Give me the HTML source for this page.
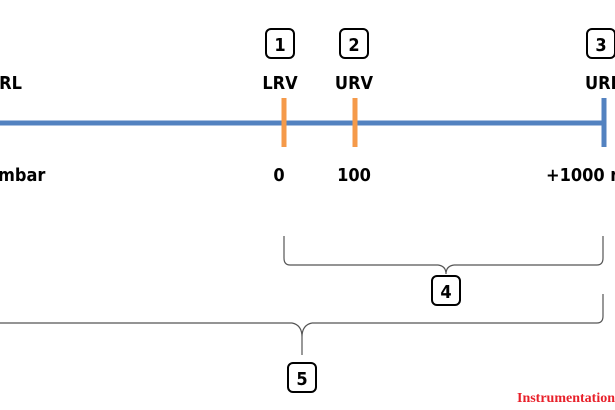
<!DOCTYPE html>
<html><head><style>
html,body{margin:0;padding:0;background:#fff;}
body{width:615px;height:410px;overflow:hidden;position:relative;}
svg{position:absolute;left:0;top:0;}
text{font-family:"DejaVu Sans Condensed","Liberation Sans",sans-serif;font-weight:bold;font-size:18px;fill:#000;}
</style></head><body>
<svg width="615" height="410" viewBox="0 0 615 410">
<line x1="0" y1="123" x2="604" y2="123" stroke="#5382c0" stroke-width="5"/>
<line x1="604" y1="98" x2="604" y2="147" stroke="#5382c0" stroke-width="5"/>
<line x1="284" y1="98" x2="284" y2="147" stroke="#f59a4a" stroke-width="5"/>
<line x1="355" y1="98" x2="355" y2="147" stroke="#f59a4a" stroke-width="5"/>
<g fill="#fff" stroke="#000" stroke-width="2">
<rect x="266" y="29" width="28" height="29" rx="5"/>
<rect x="340" y="29" width="28" height="29" rx="5"/>
<rect x="587" y="29" width="28" height="29" rx="5"/>
<rect x="432" y="276" width="28" height="29" rx="5"/>
<rect x="288" y="363" width="28" height="29" rx="5"/>
</g>
<text x="280" y="51" text-anchor="middle">1</text>
<text x="354" y="51" text-anchor="middle">2</text>
<text x="601" y="51" text-anchor="middle">3</text>
<text x="446" y="298" text-anchor="middle">4</text>
<text x="302" y="385" text-anchor="middle">5</text>
<text x="280" y="89" text-anchor="middle">LRV</text>
<text x="354" y="89" text-anchor="middle">URV</text>
<text x="585" y="89">URL</text>
<text x="-14" y="89">URL</text>
<text x="-2" y="181">mbar</text>
<text x="279" y="181" text-anchor="middle">0</text>
<text x="354" y="181" text-anchor="middle">100</text>
<text x="546" y="181">+1000 mbar</text>
<g fill="none" stroke="#555" stroke-width="1.2">
<path d="M284 236 V258 Q284 265 290 265 H438 Q446 266 446 274 V274 M454 265 H597 Q603 265 603 258 V236 M454 265 Q446 266 446 274"/>
<path d="M0 323 H292 Q302 325 302 337 V355 M312 323 H597 Q603 323 603 316 V294 M312 323 Q302 325 302 337"/>
</g>
<text x="517" y="402" style="font-family:'Liberation Serif',serif;font-size:14px;fill:#e8202a;">Instrumentation Tools</text>
</svg>
</body></html>
